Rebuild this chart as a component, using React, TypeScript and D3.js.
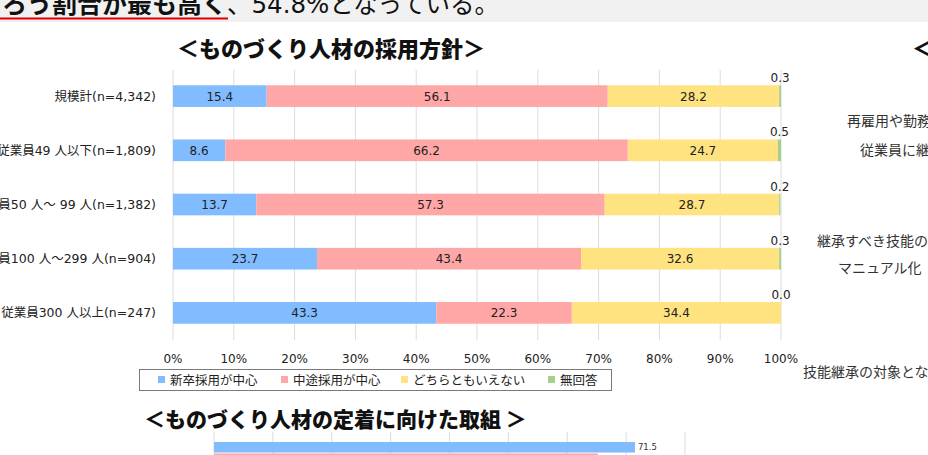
import * as d3 from "d3";

// 採用方針（横積み上げ棒）
const categories = [
  "規模計(n=4,342)",
  "従業員49 人以下(n=1,809)",
  "従業員50 人～ 99 人(n=1,382)",
  "従業員100 人～299 人(n=904)",
  "従業員300 人以上(n=247)",
];
const seriesKeys = ["shinsotsu", "chuto", "dochira", "mukaito"];
const seriesNames = ["新卒採用が中心", "中途採用が中心", "どちらともいえない", "無回答"];
const shinsotsu = [15.4, 8.6, 13.7, 23.7, 43.3];
const chuto = [56.1, 66.2, 57.3, 43.4, 22.3];
const dochira = [28.2, 24.7, 28.7, 32.6, 34.4];
const mukaito = [0.3, 0.5, 0.2, 0.3, 0.0];
const xTicks = [0, 10, 20, 30, 40, 50, 60, 70, 80, 90, 100];

// 定着に向けた取組（下段、先頭2本のみ）
const retentionKeys = ["a", "b"];
const retentionValues = [71.5, 65.2];
const retentionTicks = [0, 10, 20, 30, 40, 50, 60, 70, 80];

// 右側の図の項目ラベル
const rightLabels = ["再雇用や勤務", "従業員に継", "継承すべき技能の", "マニュアル化", "技能継承の対象とな"];

const colors: Record<string, string> = {
  shinsotsu: "#80bcff",
  chuto: "#ffa6a6",
  dochira: "#ffe381",
  mukaito: "#a3d08c",
};
const retentionColors = ["#80bcff", "#ffa6a6"];

const LABEL_FONT = '"DejaVu Sans", "Noto Sans CJK JP", sans-serif';
const CJK_FONT = '"Noto Sans CJK JP", sans-serif';

export default function App() {
  const width = 928;
  const height = 455;

  const x = d3.scaleLinear().domain([0, 100]).range([173, 781]);
  const y = d3.scaleBand<string>().domain(categories).range([69, 340]).paddingInner(0.6).paddingOuter(0.3);
  const bw = y.bandwidth();

  const rows = categories.map((cat, i) => ({
    cat,
    shinsotsu: shinsotsu[i],
    chuto: chuto[i],
    dochira: dochira[i],
    mukaito: mukaito[i],
  }));
  const stacked = d3.stack<any>().keys(seriesKeys)(rows);

  const x2 = d3.scaleLinear().domain([0, 80]).range([214, 685]);
  const y2 = d3.scaleBand<string>().domain(retentionKeys).range([442, 464]).paddingInner(0.08);

  const legendX = [158, 281, 401, 548];
  const rightPos = [
    [847, 126],
    [860, 155],
    [817, 246],
    [838, 273],
    [803, 377],
  ];

  return (
    <>
      <style>{"body{margin:0}"}</style>
      <svg width={width} height={height} viewBox={`0 0 ${width} ${height}`} style={{ display: "block", background: "#fff" }}>
        {/* 本文の帯 */}
        <rect x={0} y={0} width={width} height={22} fill="#f1f1f1" />
        <text y={13} fontFamily={LABEL_FONT} fill="#111">
          <tspan x={2} fontSize={25} fontWeight={700} fontFamily={CJK_FONT}>ろう割合が最も高く</tspan>
          <tspan fontSize={24.5}>、54.8%となっている。</tspan>
        </text>
        <line x1={0} x2={228} y1={18.5} y2={18.5} stroke="#e10000" strokeWidth={2} />

        <text x={177} y={57} fontSize={22} fontWeight={800} fontFamily={CJK_FONT} fill="#111">
          ＜ものづくり人材の採用方針＞
        </text>
        <text x={912} y={57} fontSize={22} fontWeight={800} fontFamily={CJK_FONT} fill="#111">
          ＜
        </text>

        {/* グリッド */}
        {xTicks.map((t) => (
          <g key={`g-${t}`}>
            <line x1={x(t)} x2={x(t)} y1={70} y2={340} stroke="#dcdcdc" strokeWidth={1} />
            <text x={x(t)} y={363} textAnchor="middle" fontSize={12} fontFamily={LABEL_FONT} fill="#222">
              {t}%
            </text>
          </g>
        ))}

        {/* 棒 */}
        {stacked.map((s) => (
          <g key={s.key} fill={colors[s.key]}>
            {s.map((d: any) => (
              <rect
                key={d.data.cat}
                x={x(d[0])}
                y={y(d.data.cat)}
                width={Math.max(0, x(d[1]) - x(d[0]))}
                height={bw}
              />
            ))}
          </g>
        ))}

        {/* 値ラベル */}
        {stacked.map((s) =>
          s.map((d: any) => {
            const v = d.data[s.key];
            const cx = x((d[0] + d[1]) / 2);
            const top = y(d.data.cat) ?? 0;
            const inside = s.key !== "mukaito";
            return (
              <text
                key={`${s.key}-${d.data.cat}`}
                x={cx}
                y={inside ? top + bw / 2 + 4.5 : top - 3}
                textAnchor="middle"
                fontSize={12}
                fontFamily={LABEL_FONT}
                fill="#222"
              >
                {d3.format(".1f")(v)}
              </text>
            );
          })
        )}

        {/* カテゴリ */}
        {categories.map((c) => (
          <text
            key={c}
            x={156}
            y={(y(c) ?? 0) + bw / 2 + 4.5}
            textAnchor="end"
            fontSize={12.5}
            fontFamily={LABEL_FONT}
            fill="#222"
          >
            {c}
          </text>
        ))}

        {/* 凡例 */}
        <rect x={139.5} y={369.5} width={472} height={21} fill="#fff" stroke="#7a7a7a" strokeWidth={1} />
        {seriesKeys.map((k, i) => (
          <g key={`lg-${k}`}>
            <rect x={legendX[i]} y={376} width={7} height={7} fill={colors[k]} />
            <text x={legendX[i] + 12} y={384.5} fontSize={12.5} fontFamily={CJK_FONT} fill="#222">
              {seriesNames[i]}
            </text>
          </g>
        ))}

        {/* 定着に向けた取組 */}
        <text x={144} y={427} fontSize={21} fontWeight={800} fontFamily={CJK_FONT} fill="#111">
          ＜ものづくり人材の定着に向けた取組 ＞
        </text>
        {retentionTicks.map((t) => (
          <line key={`r-${t}`} x1={x2(t)} x2={x2(t)} y1={432} y2={height} stroke="#dcdcdc" strokeWidth={1} />
        ))}
        {retentionKeys.map((k, i) => (
          <g key={`rb-${k}`}>
            <rect
              x={x2(0)}
              y={y2(k)}
              width={x2(retentionValues[i]) - x2(0)}
              height={y2.bandwidth()}
              fill={retentionColors[i]}
            />
            <text
              x={x2(retentionValues[i]) + 3}
              y={(y2(k) ?? 0) + y2.bandwidth() / 2 + 3}
              fontSize={8.5}
              fontFamily={LABEL_FONT}
              fill="#333"
            >
              {d3.format(".1f")(retentionValues[i])}
            </text>
          </g>
        ))}

        {/* 右側の図の項目 */}
        {rightLabels.map((t, i) => (
          <text
            key={t}
            x={rightPos[i][0]}
            y={rightPos[i][1]}
            fontSize={14}
            fontFamily={CJK_FONT}
            fill="#333"
          >
            {t}
          </text>
        ))}
      </svg>
    </>
  );
}
